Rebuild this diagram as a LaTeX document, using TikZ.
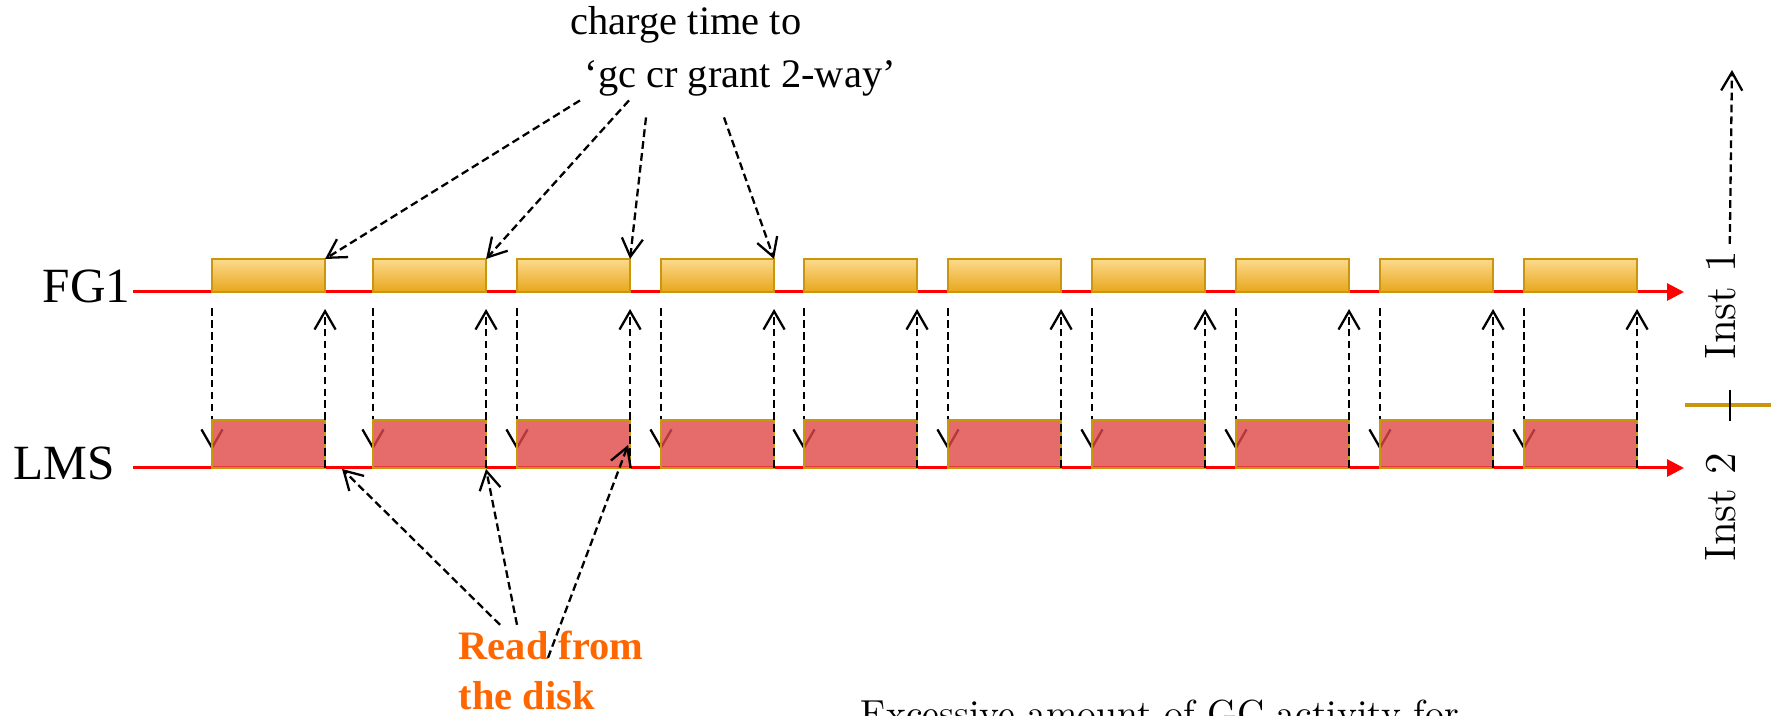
\documentclass[tikz,border=0pt]{standalone}
\usepackage{fontspec}
\newfontfamily\garfont{Liberation Serif}
\usetikzlibrary{arrows.meta,calc}

\definecolor{goldline}{HTML}{C9960C}
\definecolor{fgtop}{HTML}{FCDA8C}
\definecolor{fgbot}{HTML}{E8A61C}
\definecolor{lmsfill}{RGB}{224,70,70}
\definecolor{readorange}{HTML}{FF6600}

\begin{document}
\begin{tikzpicture}[x=0.01cm,y=-0.01cm,
  fgbox/.style={draw=goldline,line width=0.6pt,top color=fgtop,bottom color=fgbot,
    minimum width=1.13cm,minimum height=0.33cm,inner sep=0,outer sep=0,anchor=south west},
  lmsbox/.style={draw=goldline,line width=0.6pt,fill=lmsfill,fill opacity=0.8,
    minimum width=1.13cm,minimum height=0.48cm,inner sep=0,outer sep=0,anchor=south west},
  timeline/.style={red,line width=0.85pt,-{Triangle[length=4.8pt,width=4.8pt]}},
  hint/.style={dash pattern=on 2.2pt off 1.2pt,line width=0.65pt,-{Straight Barb[length=5.2pt,width=6pt]}},
  garlabel/.style={anchor=base west,inner sep=0,font=\garfont\fontsize{11.5}{13}\selectfont}]

\useasboundingbox (0,0) rectangle (1771,716);

% rows:
\node[anchor=base west,inner sep=0,font=\garfont\fontsize{14}{16}\selectfont] (fglab) at (42,303) {FG1};
\node[anchor=base west,inner sep=0,font=\garfont\fontsize{14}{16}\selectfont] (lmslab) at (13,480) {LMS};

\coordinate (fgstart) at (133,292);
\coordinate (fgend) at (1684,292);
\coordinate (lmsstart) at (133,468);
\coordinate (lmsend) at (1684,468);
\draw[timeline] (fgstart) -- (fgend);
\draw[timeline] (lmsstart) -- (lmsend);

% FG1 blocks:
\node[fgbox] (fg1) at (212,292) {};
\node[fgbox] (fg2) at (373,292) {};
\node[fgbox] (fg3) at (517,292) {};
\node[fgbox] (fg4) at (661,292) {};
\node[fgbox] (fg5) at (804,292) {};
\node[fgbox] (fg6) at (948,292) {};
\node[fgbox] (fg7) at (1092,292) {};
\node[fgbox] (fg8) at (1236,292) {};
\node[fgbox] (fg9) at (1380,292) {};
\node[fgbox] (fg10) at (1524,292) {};

% requests down to LMS:
\draw[hint] ($(fg1.south west)+(0,16)$) -- (212,450);
\draw[hint] ($(fg2.south west)+(0,16)$) -- (373,450);
\draw[hint] ($(fg3.south west)+(0,16)$) -- (517,450);
\draw[hint] ($(fg4.south west)+(0,16)$) -- (661,450);
\draw[hint] ($(fg5.south west)+(0,16)$) -- (804,450);
\draw[hint] ($(fg6.south west)+(0,16)$) -- (948,450);
\draw[hint] ($(fg7.south west)+(0,16)$) -- (1092,450);
\draw[hint] ($(fg8.south west)+(0,16)$) -- (1236,450);
\draw[hint] ($(fg9.south west)+(0,16)$) -- (1380,450);
\draw[hint] ($(fg10.south west)+(0,16)$) -- (1524,450);

% LMS blocks:
\node[lmsbox] (lms1) at (212,468) {};
\node[lmsbox] (lms2) at (373,468) {};
\node[lmsbox] (lms3) at (517,468) {};
\node[lmsbox] (lms4) at (661,468) {};
\node[lmsbox] (lms5) at (804,468) {};
\node[lmsbox] (lms6) at (948,468) {};
\node[lmsbox] (lms7) at (1092,468) {};
\node[lmsbox] (lms8) at (1236,468) {};
\node[lmsbox] (lms9) at (1380,468) {};
\node[lmsbox] (lms10) at (1524,468) {};

% replies back to FG1:
\draw[hint] (lms1.south east) -- ($(fg1.south east)+(0,17)$);
\draw[hint] (lms2.south east) -- ($(fg2.south east)+(0,17)$);
\draw[hint] (lms3.south east) -- ($(fg3.south east)+(0,17)$);
\draw[hint] (lms4.south east) -- ($(fg4.south east)+(0,17)$);
\draw[hint] (lms5.south east) -- ($(fg5.south east)+(0,17)$);
\draw[hint] (lms6.south east) -- ($(fg6.south east)+(0,17)$);
\draw[hint] (lms7.south east) -- ($(fg7.south east)+(0,17)$);
\draw[hint] (lms8.south east) -- ($(fg8.south east)+(0,17)$);
\draw[hint] (lms9.south east) -- ($(fg9.south east)+(0,17)$);
\draw[hint] (lms10.south east) -- ($(fg10.south east)+(0,17)$);

% top note:
\node[garlabel] (chargetxt) at (570,35) {charge time to};
\node[garlabel] (granttxt) at (584,88) {‘gc cr grant 2-way’};

\draw[hint] ($(granttxt.south west)+(-4,3)$) -- (fg1.north east);
\draw[hint] ($(granttxt.south west)+(45,3)$) -- (fg2.north east);
\draw[hint] ($(granttxt.south west)+(62,20)$) -- (fg3.north east);
\draw[hint] ($(granttxt.south west)+(140,20)$) -- (fg4.north east);

% bottom note:
\node[garlabel,font=\garfont\bfseries\fontsize{11.5}{13}\selectfont,text=readorange] (readtxt) at (458,660) {Read from};
\node[garlabel,font=\garfont\bfseries\fontsize{11.5}{13}\selectfont,text=readorange] (disktxt) at (458,710) {the disk};

\draw[hint] ($(readtxt.north west)+(42,-6)$) -- ($(lms1.south east)+(17,1)$);
\draw[hint] ($(readtxt.north west)+(59,-6)$) -- ($(lms2.south east)+(0,1)$);
\draw[hint] ($(readtxt.north west)+(90,27)$) -- ($(lms3.south east)+(-2,-23)$);

% instances:
\draw[goldline,line width=1.4pt] (1685,405) -- (1771,405);
\draw[line width=0.6pt] (1730,390) -- (1730,421);
\node[rotate=90,inner sep=0,font=\fontsize{12.5}{14}\selectfont] (inst1) at (1721,305) {Inst 1};
\node[rotate=90,inner sep=0,font=\fontsize{12.5}{14}\selectfont] (inst2) at (1721,507) {Inst 2};
\coordinate (insttop) at (1732,70);
\draw[hint] ($(inst1.base east)+(-6,-6)$) -- (insttop);

\node[anchor=base west,inner sep=0,font=\fontsize{10.7}{12}\selectfont] (caption) at (860,727) {Excessive amount of GC activity for};

\end{tikzpicture}
\end{document}
